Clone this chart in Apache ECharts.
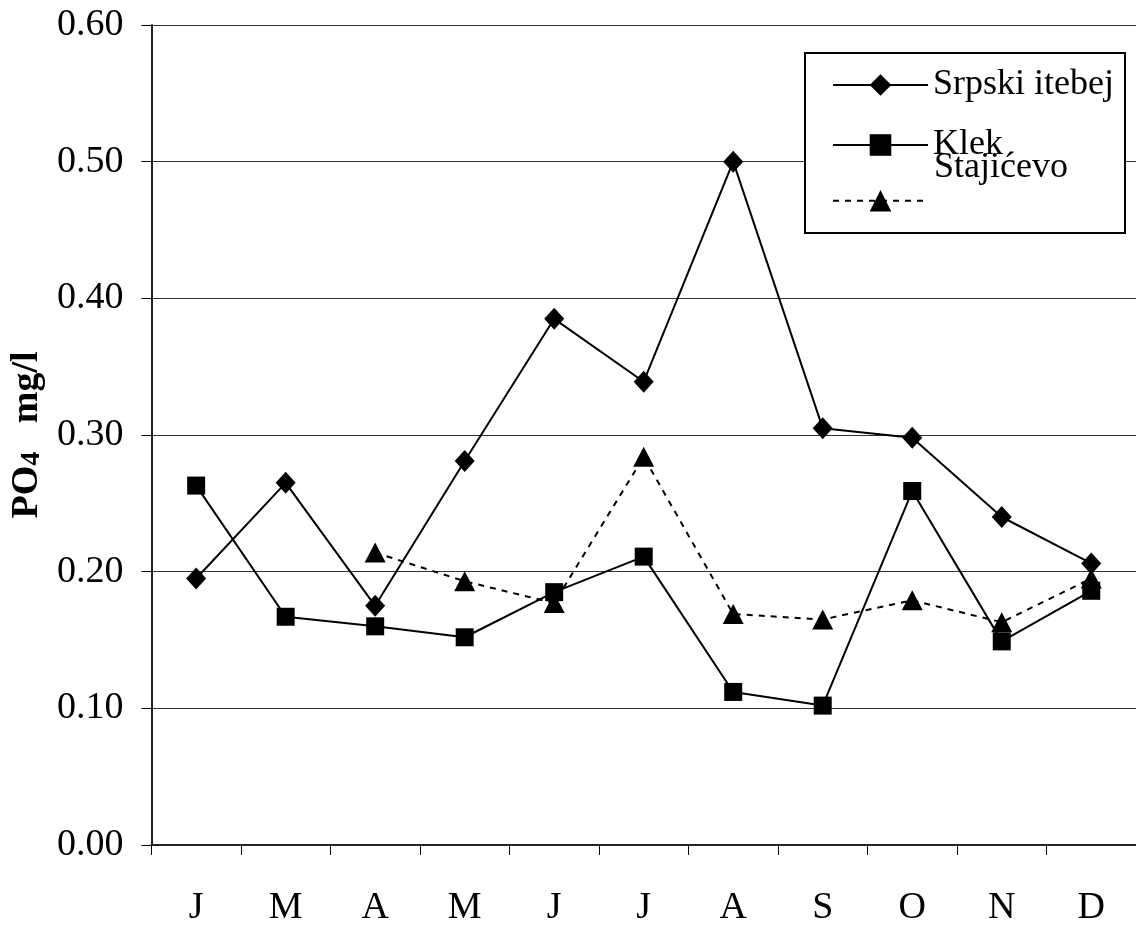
<!DOCTYPE html>
<html>
<head>
<meta charset="utf-8">
<script src="https://cdn.jsdelivr.net/npm/echarts@6/dist/echarts.min.js"></script>
<style>
  html, body { margin: 0; padding: 0; background: #fff; }
  #chart { width: 1136px; height: 927px; }
</style>
</head>
<body>
<div id="chart"></div>
<script>
// Monthly PO4 concentration (mg/l) at three sampling sites
const months = ['J', 'M', 'A', 'M', 'J', 'J', 'A', 'S', 'O', 'N', 'D'];
const srpskiItebej = [0.195, 0.265, 0.175, 0.281, 0.385, 0.339, 0.500, 0.305, 0.298, 0.240, 0.206];
const klek = [0.263, 0.167, 0.160, 0.152, 0.185, 0.211, 0.112, 0.102, 0.259, 0.149, 0.186];
const stajicevo = [null, null, 0.214, 0.193, 0.177, 0.284, 0.169, 0.165, 0.179, 0.163, 0.195];
const yTicks = [0, 0.1, 0.2, 0.3, 0.4, 0.5, 0.6];

const FONT = '"Liberation Serif", "Times New Roman", serif';

const chart = echarts.init(document.getElementById('chart'), null, { renderer: 'canvas' });

const legendText = { fontFamily: FONT, fontSize: 36, color: '#000', lineHeight: 36 };
const legendBase = {
  orient: 'horizontal',
  left: 832,
  itemWidth: 95,
  itemHeight: 27,
  selectedMode: false,
  padding: 0,
  z: 100,
  textStyle: legendText
};

chart.setOption({
  animation: false,
  backgroundColor: '#fff',
  grid: { left: 150, top: 25, width: 996, bottom: 79, containLabel: false },
  graphic: [
    {
      type: 'rect',
      z: 50,
      shape: { x: 805, y: 53, width: 320, height: 180 },
      style: { fill: '#fff', stroke: '#000', lineWidth: 2 }
    },
    {
      // third legend entry's label sits above its line sample
      type: 'text',
      z: 110,
      x: 934,
      y: 168,
      style: {
        text: 'Stajićevo',
        font: '36px ' + FONT,
        fill: '#000',
        verticalAlign: 'middle',
        align: 'left'
      }
    }
  ],
  legend: [
    Object.assign({}, legendBase, { top: 67, data: ['Srpski itebej'] }),
    Object.assign({}, legendBase, { top: 127, data: ['Klek'] }),
    Object.assign({}, legendBase, { top: 190, data: ['Stajićevo'], formatter: () => '' })
  ],
  xAxis: {
    type: 'category',
    data: months,
    boundaryGap: true,
    axisLine: { lineStyle: { color: '#222', width: 2 } },
    axisTick: { show: true, length: 10, lineStyle: { color: '#000', width: 1 } },
    axisLabel: { fontFamily: FONT, fontSize: 38, color: '#000', margin: 44 },
    splitLine: { show: false }
  },
  yAxis: {
    type: 'value',
    min: 0,
    max: 0.6,
    interval: 0.1,
    name: '{a|PO}{b|4}{a|   mg/l}',
    nameLocation: 'middle',
    nameGap: 104,
    nameRotate: 90,
    nameTextStyle: {
      color: '#000',
      rich: {
        a: { fontFamily: FONT, fontSize: 38, fontWeight: 'bold', color: '#000', verticalAlign: 'bottom', lineHeight: 40 },
        b: { fontFamily: FONT, fontSize: 28, fontWeight: 'bold', color: '#000', verticalAlign: 'bottom', lineHeight: 40 }
      }
    },
    axisLine: { show: true, lineStyle: { color: '#222', width: 2 } },
    axisTick: { show: true, length: 10, lineStyle: { color: '#000', width: 1 } },
    axisLabel: {
      fontFamily: FONT, fontSize: 38, color: '#000', margin: 28,
      formatter: v => yTicks.some(t => Math.abs(t - v) < 1e-9) ? v.toFixed(2) : ''
    },
    splitLine: { show: true, lineStyle: { color: '#333', width: 1.2 } }
  },
  series: [
    {
      name: 'Srpski itebej',
      type: 'line',
      data: srpskiItebej,
      symbol: 'diamond',
      symbolSize: [20, 22],
      lineStyle: { color: '#000', width: 2 },
      itemStyle: { color: '#000' }
    },
    {
      name: 'Klek',
      type: 'line',
      data: klek,
      symbol: 'rect',
      symbolSize: 18,
      lineStyle: { color: '#000', width: 2 },
      itemStyle: { color: '#000' }
    },
    {
      name: 'Stajićevo',
      type: 'line',
      data: stajicevo,
      symbol: 'triangle',
      symbolSize: [21, 20],
      lineStyle: { color: '#000', width: 2, type: [6, 6] },
      itemStyle: { color: '#000' }
    }
  ]
});
</script>
</body>
</html>
